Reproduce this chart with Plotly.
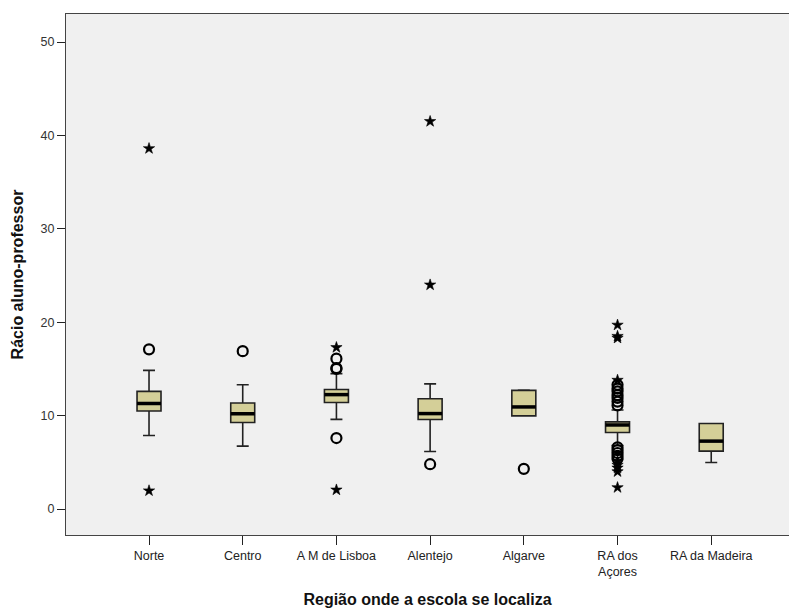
import plotly.graph_objects as go

categories = ["Norte", "Centro", "A M de Lisboa", "Alentejo", "Algarve", "RA dos<br>Açores", "RA da Madeira"]
q1 = [10.5, 9.26, 11.4, 9.58, 9.97, 8.19, 6.2]
median = [11.3, 10.2, 12.25, 10.22, 10.93, 9.0, 7.27]
q3 = [12.6, 11.36, 12.8, 11.8, 12.7, 9.33, 9.15]
lower_whisker = [7.87, 6.73, 9.6, 6.16, 9.97, 6.8, 4.98]
upper_whisker = [14.85, 13.3, 14.5, 13.4, 12.75, 10.6, 9.15]

circle_outliers = [
    [17.1],
    [16.9],
    [16.1, 15.1, 15.0, 7.6],
    [4.8],
    [4.3],
    [13.3, 12.9, 12.6, 12.2, 11.9, 11.5, 11.1, 6.6, 6.3, 6.0, 5.7, 5.4],
    [],
]
star_outliers = [
    [38.6, 1.96],
    [],
    [17.3, 2.05],
    [41.5, 24.0],
    [],
    [19.7, 18.5, 18.3, 13.8, 5.1, 4.7, 4.4, 4.0, 2.3],
    [],
]

BOX_W = 0.256
FILL = "#d4cf98"
EDGE = "#222222"

fig = go.Figure()
for i, name in enumerate(categories):
    fig.add_trace(go.Box(
        x=[i], q1=[q1[i]], median=[median[i]], q3=[q3[i]],
        lowerfence=[lower_whisker[i]], upperfence=[upper_whisker[i]],
        width=BOX_W, whiskerwidth=0.5, fillcolor=FILL,
        line=dict(color=EDGE, width=1.6), boxpoints=False,
        showlegend=False, hoverinfo="skip",
    ))
    fig.add_trace(go.Scatter(
        x=[i - BOX_W / 2, i + BOX_W / 2], y=[median[i], median[i]],
        mode="lines", line=dict(color="black", width=3.5),
        showlegend=False, hoverinfo="skip",
    ))
    if circle_outliers[i]:
        fig.add_trace(go.Scatter(
            x=[i] * len(circle_outliers[i]), y=circle_outliers[i], mode="markers",
            marker=dict(symbol="circle-open", size=10, color="black", line=dict(width=2.2, color="black")),
            showlegend=False, hoverinfo="skip",
        ))
    if star_outliers[i]:
        fig.add_trace(go.Scatter(
            x=[i] * len(star_outliers[i]), y=star_outliers[i], mode="markers",
            marker=dict(symbol="star", size=8.5, color="black", line=dict(width=0.6, color="black")),
            showlegend=False, hoverinfo="skip",
        ))

fig.update_layout(
    width=789, height=608,
    margin=dict(l=66, r=0, t=14, b=71),
    paper_bgcolor="white", plot_bgcolor="#f0f0f0",
    font=dict(family="Liberation Sans, Arial, sans-serif", size=12, color="#222"),
    xaxis=dict(
        range=[-0.886, 6.83], tickmode="array",
        tickvals=list(range(len(categories))), ticktext=categories,
        showgrid=False, zeroline=False,
        showline=True, linecolor="#444", linewidth=1.3, mirror=True,
        ticks="outside", ticklen=9, tickcolor="#222", tickwidth=1.3,
        tickfont=dict(size=12.5, color="#222"),
        title=dict(text="<b>Região onde a escola se localiza</b>", font=dict(size=16, color="#111"), standoff=17),
    ),
    yaxis=dict(
        range=[-2.78, 53.0], tickmode="array", tickvals=[0, 10, 20, 30, 40, 50],
        showgrid=False, zeroline=False,
        showline=True, linecolor="#444", linewidth=1.3, mirror=False,
        ticks="outside", ticklen=8, tickcolor="#222", tickwidth=1.3,
        tickfont=dict(size=12.5, color="#333"),
        title=dict(text="<b>Rácio aluno-professor</b>", font=dict(size=16, color="#111"), standoff=12),
    ),
)

fig.write_html("out.html")
